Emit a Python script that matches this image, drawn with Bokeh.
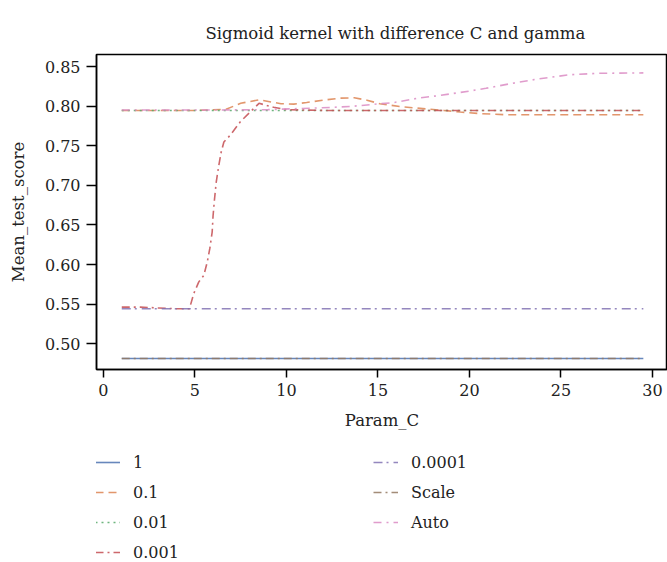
from bokeh.plotting import figure
from bokeh.layouts import column
from bokeh.models import (Range1d, Legend, LegendItem, SingleIntervalTicker,
                          NumeralTickFormatter)
from bokeh.embed import file_html
from bokeh.resources import INLINE

# Mean test score of the sigmoid-kernel SVM for each gamma setting, against C
c_1 = [1, 29.5]
score_1 = [0.481, 0.481]

c_01 = [1, 3, 5, 6.7, 7.5, 8.5, 9.7, 10.4, 11.1, 12.0, 12.9, 13.7, 14.4,
        15.1, 16.2, 17.1, 18.6, 19.5, 20.6, 22, 25, 29.5]
score_01 = [0.795, 0.795, 0.795, 0.7965, 0.804, 0.8085, 0.8035, 0.803, 0.805,
            0.808, 0.8105, 0.811, 0.808, 0.8035, 0.800, 0.798, 0.795, 0.793,
            0.791, 0.7895, 0.7895, 0.7895]

c_001 = [1, 29.5]
score_001 = [0.795, 0.795]

c_0001 = [1, 2, 3, 4, 4.7, 4.93, 5.21, 5.48, 5.67, 5.81, 5.94, 5.99, 6.07,
          6.16, 6.30, 6.43, 6.58, 6.94, 7.49, 8.5, 9.3, 10, 12, 15, 20, 25, 29.5]
score_0001 = [0.546, 0.546, 0.545, 0.544, 0.544, 0.563, 0.578, 0.586, 0.603,
              0.620, 0.641, 0.662, 0.683, 0.704, 0.725, 0.742, 0.755, 0.764,
              0.781, 0.804, 0.799, 0.796, 0.795, 0.795, 0.795, 0.795, 0.795]

c_00001 = [1, 29.5]
score_00001 = [0.544, 0.544]

c_scale = [1, 29.5]
score_scale = [0.481, 0.481]

c_auto = [1, 6, 9, 10.8, 11.9, 13.5, 15.1, 15.8, 17.3, 18.4, 20, 20.9, 22.5,
          23.8, 25.4, 27, 29.5]
score_auto = [0.7955, 0.7955, 0.796, 0.7975, 0.7983, 0.800, 0.8035, 0.8047,
              0.811, 0.814, 0.8195, 0.823, 0.830, 0.835, 0.840, 0.842, 0.8425]

names = ["1", "0.1", "0.01", "0.001", "0.0001", "Scale", "Auto"]
xs = [c_1, c_01, c_001, c_0001, c_00001, c_scale, c_auto]
ys = [score_1, score_01, score_001, score_0001, score_00001, score_scale, score_auto]
colors = ["#4C72B0", "#DD8452", "#55A868", "#C44E52", "#8172B3", "#937860", "#DA8BC3"]
dashes = ["solid", "8 5", "2 4", "8 4 2 4", "9 4 2 5", "8 4 2 4", "8 5 2 5"]

FONT = "DejaVu Serif"
TEXT = "#222222"

p = figure(width=667, height=445, output_backend="svg", toolbar_location=None,
           x_range=Range1d(-0.38, 30.82), y_range=Range1d(0.4671, 0.8658),
           min_border_left=96, min_border_right=0, min_border_top=54,
           min_border_bottom=76)

p.title.text = "Sigmoid kernel with difference C and gamma"
p.title.text_font = FONT
p.title.text_font_size = "16.5px"
p.title.text_font_style = "normal"
p.title.text_color = TEXT
p.title.align = "left"
p.title.offset = 109
p.title.standoff = 24

p.xgrid.visible = False
p.ygrid.visible = False
p.outline_line_color = "black"
p.outline_line_width = 1.5

p.xaxis.ticker = SingleIntervalTicker(interval=5)
p.yaxis.ticker = SingleIntervalTicker(interval=0.05)
p.yaxis.formatter = NumeralTickFormatter(format="0.00")

for ax in (p.xaxis, p.yaxis):
    ax.axis_line_color = "black"
    ax.axis_line_width = 1.5
    ax.major_tick_line_color = "black"
    ax.major_tick_line_width = 1.5
    ax.major_tick_in = 0
    ax.minor_tick_line_color = None
    ax.major_label_text_font = FONT
    ax.major_label_text_font_size = "16px"
    ax.major_label_text_color = TEXT
    ax.axis_label_text_font = FONT
    ax.axis_label_text_font_size = "16.5px"
    ax.axis_label_text_font_style = "normal"
    ax.axis_label_text_color = TEXT

p.xaxis.axis_label = "Param_C"
p.yaxis.axis_label = "Mean_test_score"
p.xaxis.major_tick_out = 8
p.yaxis.major_tick_out = 10
p.xaxis.major_label_standoff = 6
p.yaxis.major_label_standoff = 6
p.xaxis.axis_label_standoff = 12
p.yaxis.axis_label_standoff = 14

line_style = dict(line_width=1.6, line_alpha=0.85)
for x, y, col, dash in zip(xs, ys, colors, dashes):
    p.line(x, y, line_color=col, line_dash=dash, **line_style)

# Key panel beneath the chart; its own copies of the series sit outside its
# (empty) view and only supply the swatch styles to the legend.
key = figure(width=667, height=117, output_backend="svg", toolbar_location=None,
             x_range=Range1d(100, 101), y_range=Range1d(0, 1),
             min_border=0, outline_line_color=None)
key.axis.visible = False
key.grid.visible = False

items = []
for name, x, y, col, dash in zip(names, xs, ys, colors, dashes):
    r = key.line(x, y, line_color=col, line_dash=dash, **line_style)
    items.append(LegendItem(label=name, renderers=[r]))

legend = Legend(items=items, orientation="vertical", nrows=4, ncols=2,
                location=(-1, 0), border_line_alpha=0,
                background_fill_alpha=0, padding=0, margin=0,
                glyph_width=25, glyph_height=20, label_height=20,
                label_width=230, label_standoff=13, spacing=10,
                label_text_font=FONT, label_text_font_size="16px",
                label_text_color=TEXT)
key.add_layout(legend, "center")

page = column(p, key, spacing=0)
open("out.html", "w").write(file_html(page, INLINE))
